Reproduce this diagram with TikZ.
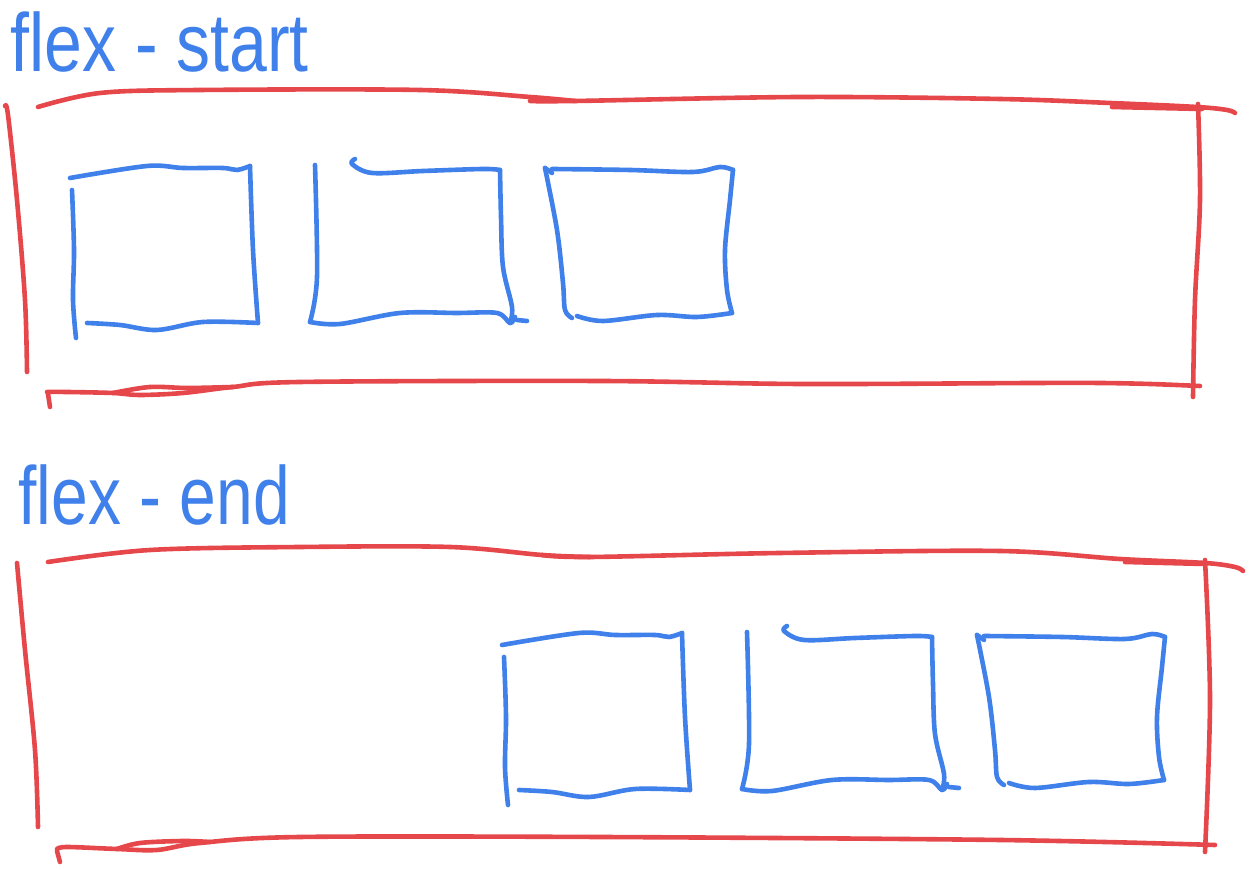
\documentclass[tikz,border=0pt]{standalone}
\usepackage{fontspec}
\usepackage{graphicx}
\setmainfont{Liberation Sans}
\definecolor{sketchred}{HTML}{E5474B}
\definecolor{sketchblue}{HTML}{3F80EA}
\newcommand{\sketchboxes}{%
  % box 1
  \draw[blueline] plot[smooth,tension=0.55] coordinates {(70,178) (147,166) (183,168) (223,168) (237,170) (250,166)};
  \draw[blueline] plot[smooth,tension=0.55] coordinates {(250,166) (253,250) (258,323)};
  \draw[blueline] plot[smooth,tension=0.55] coordinates {(258,323) (203,322) (157,330) (120,325) (87,323)};
  \draw[blueline] plot[smooth,tension=0.55] coordinates {(72,190) (74,250) (73,300) (76,338)};
  % box 2
  \draw[blueline] plot[smooth,tension=0.55] coordinates {(315,165) (317,277) (310,322)};
  \draw[blueline] plot[smooth,tension=0.55] coordinates {(310,322) (340,324) (400,313) (457,313) (497,313) (510,323) (515,317)};
  \draw[blueline] (517,320) -- (527,321);
  \draw[blueline] plot[smooth,tension=0.55] coordinates {(355,159) (352,164) (372,173) (423,171) (483,169) (500,170)};
  \draw[blueline] plot[smooth,tension=0.55] coordinates {(500,170) (501,217) (503,267) (512,307) (510,323)};
  % box 3
  \draw[blueline] plot[smooth,tension=0.55] coordinates {(545,168) (557,230) (563,283) (565,310) (572,318)};
  \draw[blueline] (545,168) -- (552,173);
  \draw[blueline] plot[smooth,tension=0.55] coordinates {(552,169) (630,170) (693,172) (720,167) (733,170)};
  \draw[blueline] plot[smooth,tension=0.55] coordinates {(733,170) (730,200) (725,250) (727,290) (732,313)};
  \draw[blueline] plot[smooth,tension=0.55] coordinates {(732,313) (697,317) (657,315) (603,321) (577,316)};
}
\begin{document}
\begin{tikzpicture}[x=0.5pt,y=-0.5pt,
  redline/.style={draw=sketchred,line width=2.3pt,line cap=round,line join=round},
  blueline/.style={draw=sketchblue,line width=2.3pt,line cap=round,line join=round},
  sketchlabel/.style={text=sketchblue,font=\fontsize{33}{33}\selectfont,inner sep=0pt,anchor=base west}]
\useasboundingbox (0,0) rectangle (1250,870);

% labels
\node[sketchlabel] (lstart) at (10,72) {\scalebox{1.03}[1.25]{flex - start}};
\node[sketchlabel] (lend) at (18,525) {\scalebox{1}[1.25]{flex - end}};

% ---------- top frame ----------
\draw[redline] plot[smooth,tension=0.55] coordinates {(38,107) (100,93) (200,90) (420,90) (530,97) (575,101)};
\draw[redline] plot[smooth,tension=0.55] coordinates {(530,101) (575,101) (800,97) (1000,99) (1110,103) (1197,107) (1227,110) (1235,113)};
\draw[redline] (1112,107) -- (1202,109);
\draw[redline] plot[smooth,tension=0.55] coordinates {(5,106) (8,115) (17,200) (25,300) (27,372)};
\draw[redline] plot[smooth,tension=0.55] coordinates {(1198,104) (1200,200) (1195,300) (1193,397)};
\draw[redline] plot[smooth,tension=0.55] coordinates {(47,392) (67,392) (113,393) (140,395) (183,393) (233,387) (300,382) (600,381) (800,384) (1033,383) (1100,383) (1150,384) (1200,386)};
\draw[redline] plot[smooth,tension=0.55] coordinates {(113,393) (150,387) (187,388) (233,387)};
\draw[redline] (48,394) -- (50,407);

% ---------- bottom frame ----------
\draw[redline] plot[smooth,tension=0.55] coordinates {(48,562) (150,550) (300,547) (450,547) (542,555) (590,557)};
\draw[redline] plot[smooth,tension=0.55] coordinates {(542,555) (590,557) (780,553) (1000,551) (1120,559) (1205,563) (1235,567) (1243,571)};
\draw[redline] (1125,562) -- (1205,564);
\draw[redline] plot[smooth,tension=0.55] coordinates {(17,563) (25,650) (35,750) (38,827)};
\draw[redline] plot[smooth,tension=0.55] coordinates {(1205,560) (1210,700) (1205,852)};
\draw[redline] plot[smooth,tension=0.55] coordinates {(57,849) (67,847) (117,849) (157,850) (200,843) (300,837) (600,837) (1000,840) (1215,845)};
\draw[redline] plot[smooth,tension=0.55] coordinates {(117,849) (140,843) (183,841) (210,842)};
\draw[redline] (57,851) -- (60,862);

% ---------- boxes ----------
\sketchboxes
\begin{scope}[shift={(432,467)}]
\sketchboxes
\end{scope}
\end{tikzpicture}
\end{document}
